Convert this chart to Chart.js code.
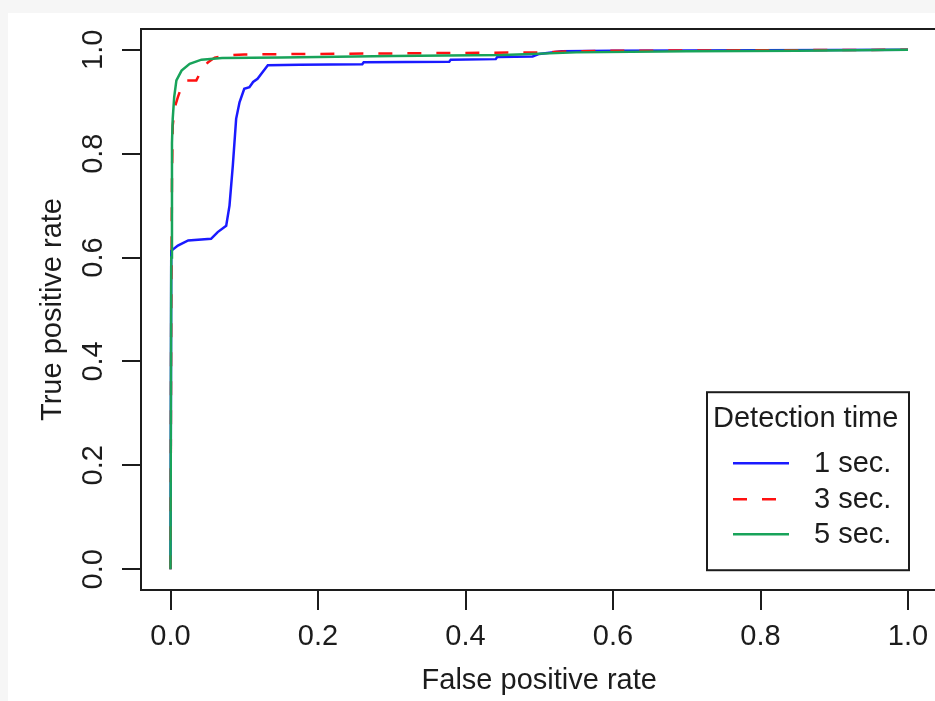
<!DOCTYPE html>
<html>
<head>
<meta charset="utf-8">
<script src="https://cdn.jsdelivr.net/npm/chart.js@4/dist/chart.umd.min.js"></script>
<style>
  html, body { margin: 0; padding: 0; overflow: hidden; background: #f6f6f6; }
  #wrap { position: absolute; left: 0; top: 0; width: 945px; height: 701px; }
</style>
</head>
<body>
<div id="wrap"><canvas id="c" width="945" height="701"></canvas></div>
<script>
// ---- data ----
const seriesLabels = ['1 sec.', '3 sec.', '5 sec.'];
const legendTitle = 'Detection time';
const xTitle = 'False positive rate';
const yTitle = 'True positive rate';
const tickValues = [0, 0.2, 0.4, 0.6, 0.8, 1.0];

const fpr1 = [0, 0.001, 0.010, 0.024, 0.055, 0.064, 0.0755, 0.080, 0.0845, 0.089, 0.0936, 0.100, 0.107, 0.112, 0.118, 0.125, 0.132, 0.175, 0.260, 0.262, 0.378, 0.380, 0.441, 0.443, 0.491, 0.500, 0.530, 0.600, 0.800, 1.0];
const tpr1 = [0, 0.613, 0.623, 0.633, 0.636, 0.649, 0.661, 0.700, 0.777, 0.867, 0.899, 0.925, 0.928, 0.938, 0.944, 0.957, 0.970, 0.971, 0.972, 0.976, 0.977, 0.981, 0.982, 0.986, 0.987, 0.992, 0.997, 0.998, 0.999, 1.0];

const fpr3 = [0, 0.001, 0.002, 0.003, 0.006, 0.010, 0.014, 0.020, 0.035, 0.040, 0.044, 0.051, 0.060, 0.076, 0.100, 0.200, 0.300, 0.400, 0.500, 0.550, 0.600, 0.800, 1.0];
const tpr3 = [0, 0.50, 0.75, 0.854, 0.890, 0.909, 0.925, 0.941, 0.941, 0.955, 0.967, 0.976, 0.985, 0.989, 0.991, 0.992, 0.993, 0.994, 0.995, 0.997, 0.998, 0.999, 1.0];

const fpr5 = [0, 0.001, 0.002, 0.003, 0.005, 0.008, 0.015, 0.026, 0.042, 0.070, 0.150, 0.300, 0.450, 0.550, 0.700, 0.850, 1.0];
const tpr5 = [0, 0.60, 0.82, 0.867, 0.909, 0.941, 0.960, 0.973, 0.981, 0.984, 0.985, 0.988, 0.990, 0.995, 0.997, 0.998, 1.0];

// ---- styles ----
const FONT = '"Liberation Sans", Arial, sans-serif';
const FS = 29;
const INK = '#1c1c1c';
const colors = ['#1a1aff', '#ff1010', '#18a35a'];
const dashes = [[], [14, 15], []];

const toXY = (xs, ys) => xs.map((x, i) => ({ x: x, y: ys[i] }));

const frame = {
  id: 'frame',
  beforeDraw(chart) {
    const ctx = chart.ctx;
    ctx.save();
    ctx.fillStyle = '#f6f6f6';
    ctx.fillRect(0, 0, chart.width, chart.height);
    ctx.fillStyle = '#ffffff';
    ctx.fillRect(8, 13, chart.width - 8, chart.height - 13);
    ctx.restore();
  },
  afterDraw(chart) {
    const ctx = chart.ctx, a = chart.chartArea;
    ctx.save();
    ctx.strokeStyle = INK;
    ctx.lineWidth = 2;
    ctx.beginPath();
    ctx.moveTo(a.left - 1, a.top);
    ctx.lineTo(a.right + 1, a.top);
    ctx.moveTo(a.right, a.top);
    ctx.lineTo(a.right, a.bottom);
    ctx.stroke();
    ctx.restore();
  }
};

const legendBox = {
  id: 'legendBox',
  afterDatasetsDraw(chart) {
    const ctx = chart.ctx;
    const xs = chart.scales.x, ys = chart.scales.y;
    const w = 202, h = 178;
    const right = xs.getPixelForValue(1) + 1;
    const bottom = ys.getPixelForValue(0) + 1;
    const L = right - w, T = bottom - h;
    ctx.save();
    ctx.fillStyle = '#ffffff';
    ctx.fillRect(L, T, w, h);
    ctx.strokeStyle = INK;
    ctx.lineWidth = 2;
    ctx.strokeRect(L, T, w, h);
    ctx.fillStyle = INK;
    ctx.font = FS + 'px ' + FONT;
    ctx.textBaseline = 'middle';
    ctx.textAlign = 'left';
    ctx.fillText(legendTitle, L + 6, T + 27);
    const rows = [71, 107, 142];
    chart.data.datasets.forEach((ds, i) => {
      const y = T + rows[i];
      ctx.beginPath();
      ctx.setLineDash(ds.borderDash || []);
      ctx.strokeStyle = ds.borderColor;
      ctx.lineWidth = 2.5;
      ctx.moveTo(L + 26, y);
      ctx.lineTo(L + 82, y);
      ctx.stroke();
      ctx.setLineDash([]);
      ctx.fillStyle = INK;
      ctx.fillText(ds.label, L + 107, y + 1);
    });
    ctx.restore();
  }
};

Chart.defaults.font.family = FONT;
Chart.defaults.font.size = FS;
Chart.defaults.color = INK;

const datasets = [
  { label: seriesLabels[0], data: toXY(fpr1, tpr1), borderColor: colors[0], borderDash: dashes[0], order: 3 },
  { label: seriesLabels[1], data: toXY(fpr3, tpr3), borderColor: colors[1], borderDash: dashes[1], order: 2 },
  { label: seriesLabels[2], data: toXY(fpr5, tpr5), borderColor: colors[2], borderDash: dashes[2], order: 1 }
].map(d => Object.assign(d, { borderWidth: 2.5, pointRadius: 0, tension: 0, fill: false, showLine: true }));

const fixedTicks = (scale) => { scale.ticks = tickValues.map(v => ({ value: v })); };

new Chart(document.getElementById('c'), {
  type: 'scatter',
  data: { datasets },
  options: {
    responsive: false,
    devicePixelRatio: 1,
    animation: false,
    layout: { padding: { top: 29, right: 7.5, bottom: 1, left: 0 } },
    plugins: { legend: { display: false }, tooltip: { enabled: false } },
    scales: {
      x: {
        type: 'linear', min: -0.04, max: 1.04,
        afterBuildTicks: fixedTicks,
        afterFit: (s) => { s.height = 110; },
        grid: { display: true, drawOnChartArea: false, drawTicks: true, tickLength: 20, color: INK, lineWidth: 2 },
        border: { display: true, color: INK, width: 2 },
        ticks: { padding: 10, maxRotation: 0, minRotation: 0, callback: (v) => Number(v).toFixed(1), color: INK },
        title: { display: true, text: xTitle, padding: { top: 0, bottom: 2 }, color: INK }
      },
      y: {
        type: 'linear', min: -0.04, max: 1.04,
        afterBuildTicks: fixedTicks,
        afterFit: (s) => { s.width = 141; },
        grid: { display: true, drawOnChartArea: false, drawTicks: true, tickLength: 19, color: INK, lineWidth: 2 },
        border: { display: true, color: INK, width: 2 },
        ticks: { padding: 8, minRotation: 90, maxRotation: 90, crossAlign: 'center', callback: (v) => Number(v).toFixed(1), color: INK },
        title: { display: true, text: yTitle, padding: { top: 36, bottom: 0 }, color: INK }
      }
    }
  },
  plugins: [frame, legendBox]
});
</script>
</body>
</html>
